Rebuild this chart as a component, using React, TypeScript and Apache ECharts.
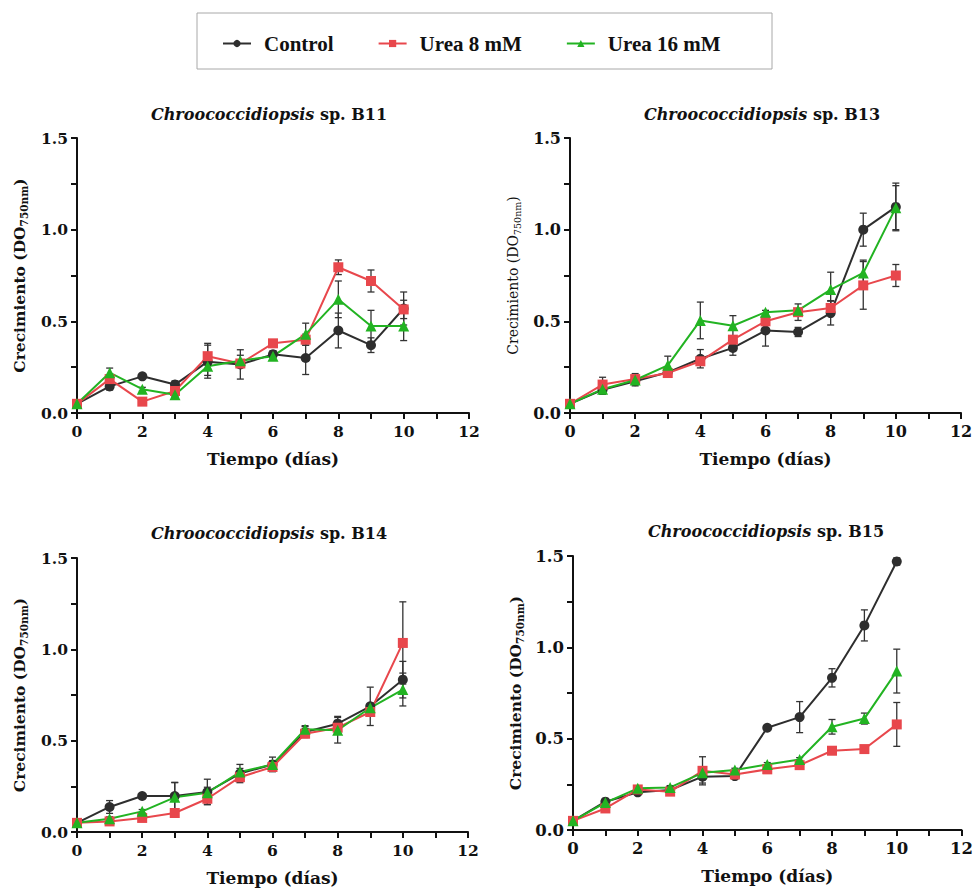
import React, { useEffect, useRef } from 'react';
import * as echarts from 'echarts';

const days = [0, 1, 2, 3, 4, 5, 6, 7, 8, 9, 10];
const seriesNames = ['Control', 'Urea 8 mM', 'Urea 16 mM'];
const strainTitles = ['B11', 'B13', 'B14', 'B15'];
const xTicks = [0, 2, 4, 6, 8, 10, 12];
const yTicks = [0.0, 0.5, 1.0, 1.5];

// B11
const b11Control = [0.05, 0.145, 0.2, 0.155, 0.28, 0.265, 0.32, 0.3, 0.45, 0.37, 0.57];
const b11ControlErr = [0, 0.02, 0.01, 0.02, 0.09, 0.08, 0.02, 0.09, 0.095, 0.04, 0.09];
const b11Urea8 = [0.05, 0.185, 0.062, 0.12, 0.31, 0.27, 0.38, 0.4, 0.795, 0.72, 0.565];
const b11Urea8Err = [0, 0.02, 0.02, 0.01, 0.07, 0.02, 0.02, 0.03, 0.04, 0.06, 0.05];
const b11Urea16 = [0.05, 0.22, 0.13, 0.1, 0.255, 0.285, 0.31, 0.43, 0.62, 0.475, 0.475];
const b11Urea16Err = [0, 0.025, 0.01, 0.01, 0.05, 0.03, 0.02, 0.06, 0.1, 0.085, 0.08];

// B13
const b13Control = [0.05, 0.127, 0.173, 0.222, 0.296, 0.355, 0.45, 0.442, 0.545, 1.0, 1.124];
const b13ControlErr = [0, 0.025, 0.025, 0.01, 0.05, 0.04, 0.085, 0.025, 0.065, 0.09, 0.13];
const b13Urea8 = [0.05, 0.155, 0.185, 0.218, 0.282, 0.4, 0.5, 0.55, 0.573, 0.696, 0.75];
const b13Urea8Err = [0, 0.04, 0.03, 0.01, 0.02, 0.02, 0.02, 0.045, 0.04, 0.13, 0.06];
const b13Urea16 = [0.05, 0.13, 0.18, 0.26, 0.505, 0.476, 0.55, 0.56, 0.673, 0.764, 1.12];
const b13Urea16Err = [0, 0.02, 0.02, 0.05, 0.1, 0.055, 0.01, 0.01, 0.095, 0.07, 0.12];

// B14
const b14Control = [0.05, 0.137, 0.197, 0.197, 0.219, 0.32, 0.37, 0.547, 0.593, 0.688, 0.834];
const b14ControlErr = [0, 0.035, 0.01, 0.075, 0.07, 0.05, 0.04, 0.03, 0.04, 0.105, 0.1];
const b14Urea8 = [0.05, 0.058, 0.077, 0.104, 0.182, 0.3, 0.356, 0.538, 0.571, 0.657, 1.035];
const b14Urea8Err = [0, 0.01, 0.01, 0.01, 0.03, 0.02, 0.02, 0.02, 0.02, 0.02, 0.225];
const b14Urea16 = [0.05, 0.073, 0.113, 0.19, 0.215, 0.328, 0.37, 0.562, 0.557, 0.68, 0.78];
const b14Urea16Err = [0, 0.01, 0.01, 0.08, 0.03, 0.02, 0.02, 0.02, 0.07, 0.02, 0.09];

// B15
const b15Control = [0.05, 0.155, 0.206, 0.219, 0.292, 0.295, 0.56, 0.618, 0.833, 1.12, 1.47];
const b15ControlErr = [0, 0.015, 0.01, 0.02, 0.035, 0.01, 0.01, 0.085, 0.05, 0.085, 0.02];
const b15Urea8 = [0.05, 0.118, 0.222, 0.21, 0.324, 0.304, 0.332, 0.355, 0.434, 0.443, 0.578];
const b15Urea8Err = [0, 0.01, 0.01, 0.01, 0.077, 0.01, 0.01, 0.01, 0.01, 0.01, 0.12];
const b15Urea16 = [0.05, 0.15, 0.228, 0.233, 0.313, 0.328, 0.359, 0.386, 0.565, 0.61, 0.87];
const b15Urea16Err = [0, 0.01, 0.01, 0.01, 0.01, 0.01, 0.01, 0.01, 0.04, 0.03, 0.12];

const panelValues = [
  [b11Control, b11Urea8, b11Urea16],
  [b13Control, b13Urea8, b13Urea16],
  [b14Control, b14Urea8, b14Urea16],
  [b15Control, b15Urea8, b15Urea16],
];
const panelErrors = [
  [b11ControlErr, b11Urea8Err, b11Urea16Err],
  [b13ControlErr, b13Urea8Err, b13Urea16Err],
  [b14ControlErr, b14Urea8Err, b14Urea16Err],
  [b15ControlErr, b15Urea8Err, b15Urea16Err],
];

// layout / style
const layout = [
  { left: 77, top: 138, width: 392, height: 275, tx: 269, ty: 114, nameBold: true, nameSize: 15.5, tick: 15.5 },
  { left: 570, top: 138, width: 391, height: 275, tx: 762, ty: 114, nameBold: false, nameSize: 14, tick: 16 },
  { left: 77, top: 558, width: 391, height: 274, tx: 269, ty: 533, nameBold: true, nameSize: 15.5, tick: 15.5 },
  { left: 573, top: 556, width: 392, height: 274, tx: 766, ty: 531, nameBold: true, nameSize: 15.5, tick: 16.5 },
];
const colors = ['#2e2e2e', '#e8474c', '#22b322'];
const symbols = ['circle', 'rect', 'triangle'];
const FONT = "'DejaVu Serif', serif";
const LEGEND_FONT = "'Liberation Serif', serif";
const AXIS = '#111';

export default function App() {
  const ref = useRef<HTMLDivElement>(null);
  useEffect(() => {
    document.body.style.margin = '0';
    const chart = echarts.init(ref.current!, null, { renderer: 'svg' });

    const grids: any[] = [];
    const xAxes: any[] = [];
    const yAxes: any[] = [];
    const series: any[] = [];
    const graphics: any[] = [];

    layout.forEach((L, i) => {
      grids.push({ left: L.left, top: L.top, width: L.width, height: L.height });
      xAxes.push({
        type: 'value', gridIndex: i, min: 0, max: 12, interval: 1,
        axisLine: { show: true, onZero: false, lineStyle: { color: AXIS, width: 2 } },
        axisTick: { show: true, length: 6, lineStyle: { color: AXIS, width: 2 } },
        splitLine: { show: false },
        axisLabel: {
          margin: 10, color: AXIS, fontFamily: FONT, fontWeight: 'bold', fontSize: L.tick,
          formatter: (v: number) => (xTicks.includes(v) ? String(v) : ''),
        },
        name: 'Tiempo (días)', nameLocation: 'middle', nameGap: 37,
        nameTextStyle: { color: AXIS, fontFamily: FONT, fontWeight: 'bold', fontSize: 17 },
      });
      const nw = L.nameBold ? 'bold' : 'normal';
      yAxes.push({
        type: 'value', gridIndex: i, min: 0, max: 1.5, interval: 0.25,
        axisLine: { show: true, onZero: false, lineStyle: { color: AXIS, width: 2 } },
        axisTick: { show: true, length: 6, lineStyle: { color: AXIS, width: 2 } },
        splitLine: { show: false },
        axisLabel: {
          margin: 9, color: AXIS, fontFamily: FONT, fontWeight: 'bold', fontSize: L.tick,
          formatter: (v: number) => {
            const hit = yTicks.find((t) => Math.abs(t - v) < 1e-6);
            return hit === undefined ? '' : hit.toFixed(1);
          },
        },
        name: '{a|Crecimiento (DO}{s|750nm}{a|)}',
        nameLocation: 'middle', nameGap: 48, nameRotate: 90,
        nameTextStyle: {
          color: AXIS,
          rich: {
            a: { fontFamily: FONT, fontWeight: nw, fontSize: L.nameSize, color: AXIS },
            s: { fontFamily: FONT, fontWeight: nw, fontSize: L.nameSize * 0.68, color: AXIS, padding: [8, 0, 0, 0] },
          },
        },
      });

      graphics.push({
        type: 'text', x: L.tx, y: L.ty,
        style: {
          text: '{i|Chroococcidiopsis}{b| sp. ' + strainTitles[i] + '}',
          align: 'center', verticalAlign: 'middle',
          rich: {
            i: { fontFamily: FONT, fontStyle: 'italic', fontWeight: 'bold', fontSize: 16, fill: AXIS },
            b: { fontFamily: FONT, fontWeight: 'bold', fontSize: 16, fill: AXIS },
          },
        },
      });

      for (let s = 0; s < 3; s++) {
        const vals = panelValues[i][s];
        const errs = panelErrors[i][s];
        series.push({
          type: 'custom', xAxisIndex: i, yAxisIndex: i, z: 1, silent: true,
          data: days.map((d, k) => [d, vals[k] - errs[k], vals[k] + errs[k]]),
          encode: { x: 0, y: [1, 2] },
          renderItem: (params: any, api: any) => {
            const x = api.value(0);
            const a = api.coord([x, api.value(2)]);
            const b = api.coord([x, api.value(1)]);
            const w = 3.5;
            const st = { stroke: '#333', lineWidth: 1.3 };
            return {
              type: 'group',
              children: [
                { type: 'line', shape: { x1: a[0], y1: a[1], x2: b[0], y2: b[1] }, style: st },
                { type: 'line', shape: { x1: a[0] - w, y1: a[1], x2: a[0] + w, y2: a[1] }, style: st },
                { type: 'line', shape: { x1: b[0] - w, y1: b[1], x2: b[0] + w, y2: b[1] }, style: st },
              ],
            };
          },
        });
        series.push({
          name: seriesNames[s], type: 'line', xAxisIndex: i, yAxisIndex: i, z: 3,
          data: days.map((d, k) => [d, vals[k]]),
          symbol: symbols[s], symbolSize: s === 2 ? 11 : 10,
          lineStyle: { color: colors[s], width: 2 },
          itemStyle: { color: colors[s] },
        });
      }
    });

    graphics.push({
      type: 'rect', shape: { x: 197, y: 13, width: 575, height: 56 }, z: -1,
      style: { fill: '#fff', stroke: '#a8a8a8', lineWidth: 1 },
    });

    chart.setOption({
      animation: false,
      backgroundColor: '#fff',
      grid: grids,
      xAxis: xAxes,
      yAxis: yAxes,
      series,
      graphic: graphics,
      legend: {
        data: seriesNames, left: 222, top: 33, padding: 0, itemWidth: 28, itemHeight: 9, itemGap: 44,
        selectedMode: false,
        textStyle: { fontFamily: LEGEND_FONT, fontWeight: 'bold', fontSize: 21, color: '#111', padding: [0, 0, 0, 8] },
      },
    });
    return () => chart.dispose();
  }, []);
  return <div ref={ref} style={{ width: 976, height: 888 }} />;
}
